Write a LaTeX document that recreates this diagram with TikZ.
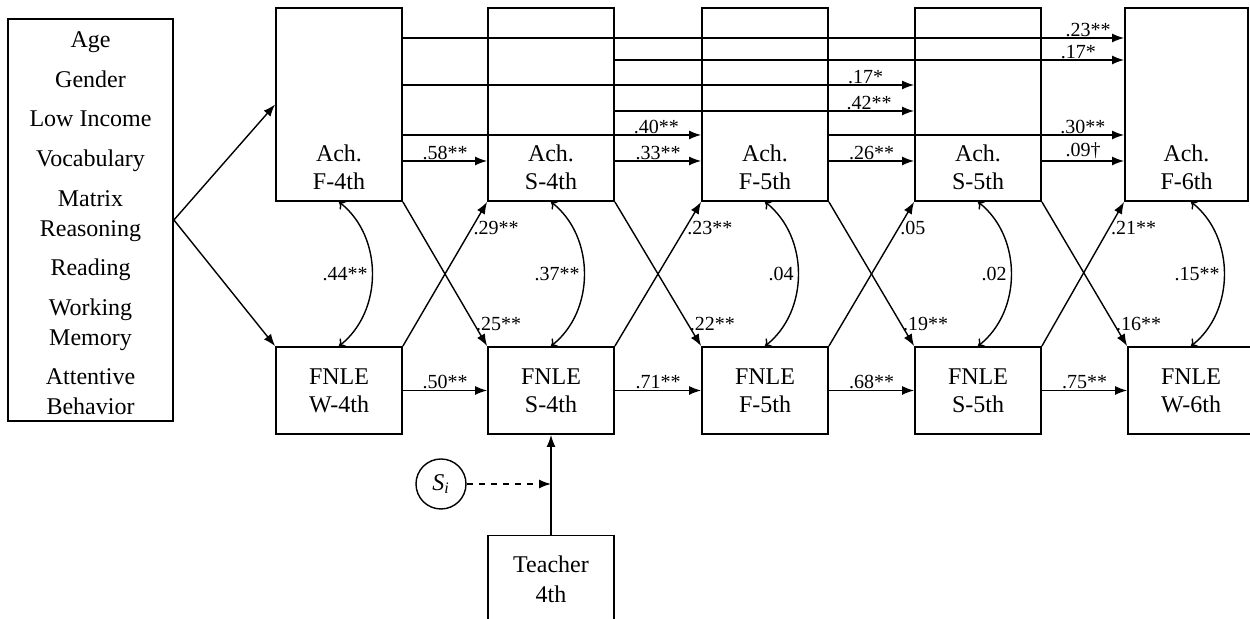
\documentclass[tikz,border=0pt]{standalone}
\usepackage{fontspec}
\setmainfont{Liberation Serif}
\usetikzlibrary{arrows.meta}

\begin{document}
\begin{tikzpicture}[x=0.5pt, y=0.5pt,
    achbox/.style={draw, line width=0.9pt, minimum width=63pt, minimum height=96.5pt, inner sep=0pt},
    fnlebox/.style={draw, line width=0.9pt, minimum width=63pt, minimum height=43.5pt, align=center, font=\fontsize{12}{14}\selectfont},
    boxtext/.style={align=center, font=\fontsize{12}{14}\selectfont},
    coef/.style={font=\fontsize{10}{12}\selectfont, inner sep=0.5pt},
    arr/.style={-{Latex[length=6pt,width=4.5pt]}, line width=0.7pt},
    corr/.style={{To[length=3pt,width=5.5pt]}-{To[length=3pt,width=5.5pt]}, line width=0.7pt, bend left=52}]
    \useasboundingbox (0,0) rectangle (1250,619);

    % Covariates
    \node[draw, line width=0.9pt, minimum width=82.5pt, minimum height=201pt] (cov) at (90.5,399) {};
    \node[align=center, font=\fontsize{12}{15}\selectfont] (covt) at (90.5,395.5)
        {Age\\[4.8pt]Gender\\[4.8pt]Low Income\\[4.8pt]Vocabulary\\[4.8pt]Matrix\\Reasoning\\[4.8pt]Reading\\[4.8pt]Working\\Memory\\[4.8pt]Attentive\\Behavior};

    % Achievement
    \node[achbox] (af4) at (339,514.5) {};
    \node[achbox] (as4) at (551,514.5) {};
    \node[achbox] (af5) at (765,514.5) {};
    \node[achbox] (as5) at (978,514.5) {};
    \node[achbox, minimum width=61.5pt] (af6) at (1186.5,514.5) {};
    \node[boxtext] (af4t) at (339,452) {Ach.\\F-4th};
    \node[boxtext] (as4t) at (551,452) {Ach.\\S-4th};
    \node[boxtext] (af5t) at (765,452) {Ach.\\F-5th};
    \node[boxtext] (as5t) at (978,452) {Ach.\\S-5th};
    \node[boxtext] (af6t) at (1186.5,452) {Ach.\\F-6th};

    % FNLE
    \node[fnlebox] (fw4) at (339,228.5) {FNLE\\W-4th};
    \node[fnlebox] (fs4) at (551,228.5) {FNLE\\S-4th};
    \node[fnlebox] (ff5) at (765,228.5) {FNLE\\F-5th};
    \node[fnlebox] (fs5) at (978,228.5) {FNLE\\S-5th};
    \node[fnlebox] (fw6) at (1191,228.5) {FNLE\\W-6th};

    % Teacher
    \node[fnlebox, font=\fontsize{12}{15}\selectfont] (tch) at (551,40) {Teacher\\4th};
    \node[draw, circle, line width=0.7pt, minimum size=25pt, inner sep=0pt, font=\fontsize{12}{14}\selectfont] (si) at (441,135) {\textit{S}\textsubscript{\textit{i}}};

    % Row levels
    \coordinate (r1) at (0,581);
    \coordinate (r2) at (0,559);
    \coordinate (r3) at (0,534);
    \coordinate (r4) at (0,508);
    \coordinate (r5) at (0,484);
    \coordinate (r6) at (0,458);

    % Arrows
    \draw[arr] (cov.east) -- (af4.west);
    \draw[arr] (cov.east) -- (fw4.north west);

    \draw[arr] (af4.east |- r6) -- (as4.west |- r6) node[coef, midway, above] {.58**};
    \draw[arr] (as4.east |- r6) -- (af5.west |- r6) node[coef, midway, above] {.33**};
    \draw[arr] (af5.east |- r6) -- (as5.west |- r6) node[coef, midway, above] {.26**};
    \draw[arr] (as5.east |- r6) -- (af6.west |- r6) node[coef, midway, above] {.09\textdagger};
    \draw[arr] (af4.east |- r5) -- (af5.west |- r5) node[coef, pos=0.85, above] {.40**};
    \draw[arr] (af5.east |- r5) -- (af6.west |- r5) node[coef, pos=0.86, above] {.30**};
    \draw[arr] (as4.east |- r4) -- (as5.west |- r4) node[coef, pos=0.85, above] {.42**};
    \draw[arr] (af4.east |- r3) -- (as5.west |- r3) node[coef, pos=0.905, above] {.17*};
    \draw[arr] (as4.east |- r2) -- (af6.west |- r2) node[coef, pos=0.91, above] {.17*};
    \draw[arr] (af4.east |- r1) -- (af6.west |- r1) node[coef, pos=0.95, above] {.23**};

    \draw[arr] (af4.south east) -- (fs4.north west) node[coef, pos=0.85, anchor=west] {.25**};
    \draw[arr] (fw4.north east) -- (as4.south west) node[coef, pos=0.82, anchor=west] {.29**};
    \draw[arr] (as4.south east) -- (ff5.north west) node[coef, pos=0.85, anchor=west] {.22**};
    \draw[arr] (fs4.north east) -- (af5.south west) node[coef, pos=0.82, anchor=west] {.23**};
    \draw[arr] (af5.south east) -- (fs5.north west) node[coef, pos=0.85, anchor=west] {.19**};
    \draw[arr] (ff5.north east) -- (as5.south west) node[coef, pos=0.82, anchor=west] {.05};
    \draw[arr] (as5.south east) -- (fw6.north west) node[coef, pos=0.85, anchor=west] {.16**};
    \draw[arr] (fs5.north east) -- (af6.south west) node[coef, pos=0.82, anchor=west] {.21**};

    \draw[corr] (af4.south) to node[coef, anchor=east, inner sep=2pt] {.44**} (fw4.north);
    \draw[corr] (as4.south) to node[coef, anchor=east, inner sep=2pt] {.37**} (fs4.north);
    \draw[corr] (af5.south) to node[coef, anchor=east, inner sep=2pt] {.04} (ff5.north);
    \draw[corr] (as5.south) to node[coef, anchor=east, inner sep=2pt] {.02} (fs5.north);
    \draw[corr] (af6.south -| fw6.north) to node[coef, anchor=east, inner sep=2pt] {.15**} (fw6.north);

    \draw[arr] (fw4) -- (fs4) node[coef, midway, above] {.50**};
    \draw[arr] (fs4) -- (ff5) node[coef, midway, above] {.71**};
    \draw[arr] (ff5) -- (fs5) node[coef, midway, above] {.68**};
    \draw[arr] (fs5) -- (fw6) node[coef, midway, above] {.75**};

    \draw[arr] (tch.north) -- (fs4.south);
    \draw[arr, dashed] (si.east) -- (si -| tch.north);
\end{tikzpicture}
\end{document}
